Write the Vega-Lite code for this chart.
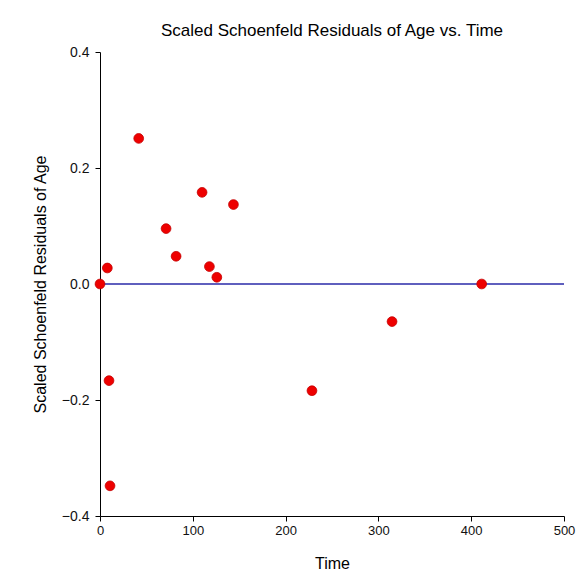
{
  "$schema": "https://vega.github.io/schema/vega-lite/v6.json",
  "autosize": {"type": "none"},
  "width": 464,
  "height": 464,
  "padding": {"left": 100, "top": 52, "right": 17, "bottom": 69},
  "background": "white",
  "config": {
    "view": {"stroke": null},
    "font": "Liberation Sans",
    "axis": {
      "grid": false,
      "domainColor": "#000000",
      "tickColor": "#000000",
      "labelColor": "#111111",
      "titleColor": "#000000",
      "labelFont": "Liberation Sans",
      "titleFont": "Liberation Sans",
      "labelFontSize": 13,
      "titleFontSize": 16,
      "titleFontWeight": "normal",
      "labelFlush": false,
      "tickSize": 5
    },
    "title": {"font": "Liberation Sans", "fontSize": 17, "fontWeight": "normal", "color": "#000000"}
  },
  "title": {"text": "Scaled Schoenfeld Residuals of Age vs. Time", "anchor": "middle", "offset": 5},
  "data": {"values": [
    {"Time": 0, "Residual": 0.0},
    {"Time": 7.9, "Residual": 0.0276},
    {"Time": 41.7, "Residual": 0.251},
    {"Time": 71.2, "Residual": 0.0955},
    {"Time": 82, "Residual": 0.0478},
    {"Time": 110, "Residual": 0.158},
    {"Time": 117.9, "Residual": 0.030},
    {"Time": 125.9, "Residual": 0.0116},
    {"Time": 143.8, "Residual": 0.137},
    {"Time": 9.7, "Residual": -0.1666},
    {"Time": 10.8, "Residual": -0.348},
    {"Time": 228.4, "Residual": -0.184},
    {"Time": 314.7, "Residual": -0.0648},
    {"Time": 411.3, "Residual": 0.0}
  ]},
  "layer": [
    {
      "data": {"values": [{"zero": 0}]},
      "mark": {"type": "rule", "color": "#2a2aa8", "strokeWidth": 1.4},
      "encoding": {"y": {"field": "zero", "type": "quantitative"}}
    },
    {
      "mark": {"type": "point", "filled": true, "fill": "#ee0000", "stroke": "#c40000", "strokeWidth": 0.8, "size": 95, "opacity": 1},
      "encoding": {
        "x": {"field": "Time", "type": "quantitative", "scale": {"domain": [0, 500], "nice": false, "zero": false},
              "axis": {"values": [0, 100, 200, 300, 400, 500], "title": "Time", "titlePadding": 18, "labelPadding": 3}},
        "y": {"field": "Residual", "type": "quantitative", "scale": {"domain": [-0.4, 0.4], "nice": false},
              "axis": {"values": [-0.4, -0.2, 0, 0.2, 0.4], "format": ".1f", "title": "Scaled Schoenfeld Residuals of Age", "titlePadding": 13, "labelPadding": 6, "labelFontSize": 14}}
      }
    }
  ]
}
